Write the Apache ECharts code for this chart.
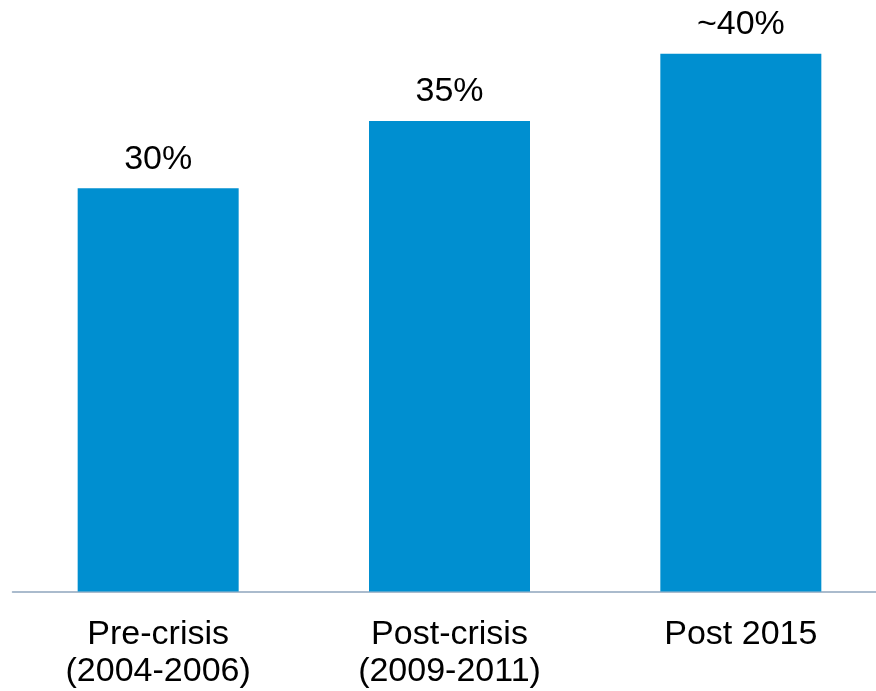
<!DOCTYPE html>
<html>
<head>
<meta charset="utf-8">
<script src="https://cdn.jsdelivr.net/npm/echarts@6/dist/echarts.min.js"></script>
<style>
html,body{margin:0;padding:0;background:#fff;}
#chart{width:876px;height:691px;}
</style>
</head>
<body>
<div id="chart"></div>
<script>
const categories = ["Pre-crisis\n(2004-2006)", "Post-crisis\n(2009-2011)", "Post 2015"];
const values = [30, 35, 40];
const valueLabels = ["30%", "35%", "~40%"];

const chart = echarts.init(document.getElementById('chart'));
chart.setOption({
  animation: false,
  grid: {left: 12.5, width: 874, top: 0, bottom: 99.5, containLabel: false, outerBoundsMode: 'none'},
  xAxis: {
    type: 'category',
    data: categories,
    axisLine: {lineStyle: {color: '#8FA5BD', width: 1.5}},
    axisTick: {show: false},
    axisLabel: {
      color: '#000',
      fontFamily: 'Liberation Sans, Arial, sans-serif',
      fontSize: 34,
      lineHeight: 37,
      margin: 25,
      interval: 0
    }
  },
  yAxis: {
    type: 'value',
    min: 0,
    max: 44,
    show: false,
    splitLine: {show: false}
  },
  series: [{
    type: 'bar',
    data: values,
    barWidth: 161,
    itemStyle: {color: '#008FD0'},
    label: {
      show: true,
      position: 'top',
      distance: 12,
      color: '#000',
      fontFamily: 'Liberation Sans, Arial, sans-serif',
      fontSize: 34,
      formatter: p => valueLabels[p.dataIndex]
    }
  }]
});
</script>
</body>
</html>
